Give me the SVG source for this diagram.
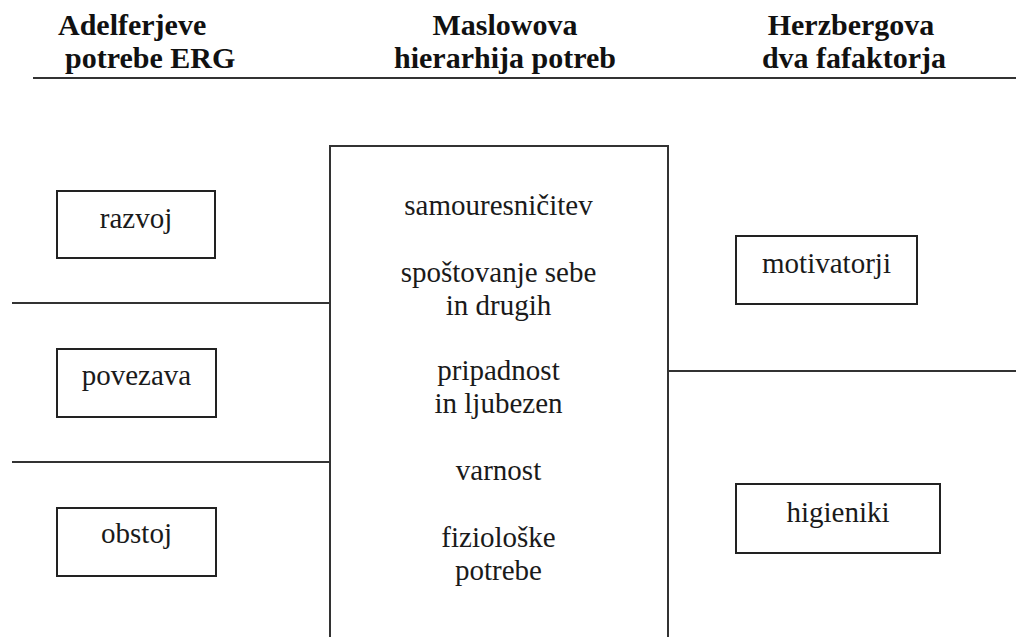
<svg xmlns="http://www.w3.org/2000/svg" width="1016" height="637" viewBox="0 0 1016 637">
  <style>
    text { font-family: 'Liberation Serif', Tinos, 'Times New Roman', 'Nimbus Roman', 'DejaVu Serif', serif; }
    .head { font-weight: bold; font-size: 30px; fill: #111; }
    .lbl { font-size: 29px; fill: #1a1a1a; text-anchor: middle; }
    .box { fill: #fff; stroke: #222; stroke-width: 2; }
    .rule { stroke: #333; stroke-width: 2; fill: none; }
  </style>
  <rect width="1016" height="637" fill="#fff"/>

  <!-- column headings -->
  <g id="headings">
    <text class="head" x="58" y="35">Adelferjeve</text>
    <text class="head" x="65" y="68">potrebe ERG</text>
    <text class="head" x="505" y="35" text-anchor="middle">Maslowova</text>
    <text class="head" x="505" y="68" text-anchor="middle">hierarhija potreb</text>
    <text class="head" x="851" y="35" text-anchor="middle">Herzbergova</text>
    <text class="head" x="854" y="68" text-anchor="middle">dva fafaktorja</text>
    <line class="rule" x1="33" y1="78" x2="1016" y2="78" stroke-width="2.5"/>
  </g>

  <!-- dividing lines between the groups -->
  <g id="connectors">
    <line class="rule" x1="12" y1="303" x2="330" y2="303"/>
    <line class="rule" x1="12" y1="462" x2="330" y2="462"/>
    <line class="rule" x1="668" y1="371" x2="1016" y2="371"/>
  </g>

  <!-- Maslow column -->
  <g id="maslow">
    <path class="rule" d="M330 640 V146 H668 V640" stroke="#222"/>
    <text class="lbl" x="498.5" y="215">samouresničitev</text>
    <text class="lbl" x="498.5" y="282">spoštovanje sebe</text>
    <text class="lbl" x="498.5" y="315">in drugih</text>
    <text class="lbl" x="498.5" y="380">pripadnost</text>
    <text class="lbl" x="498.5" y="413">in ljubezen</text>
    <text class="lbl" x="498.5" y="480">varnost</text>
    <text class="lbl" x="498.5" y="547">fiziološke</text>
    <text class="lbl" x="498.5" y="580">potrebe</text>
  </g>

  <!-- ERG needs -->
  <g id="razvoj">
    <rect class="box" x="57" y="191" width="158" height="67"/>
    <text class="lbl" x="136" y="228">razvoj</text>
  </g>
  <g id="povezava">
    <rect class="box" x="57" y="349" width="159" height="68"/>
    <text class="lbl" x="136.5" y="385">povezava</text>
  </g>
  <g id="obstoj">
    <rect class="box" x="57" y="508" width="159" height="68"/>
    <text class="lbl" x="136.5" y="543">obstoj</text>
  </g>

  <!-- Herzberg factors -->
  <g id="motivatorji">
    <rect class="box" x="736" y="236" width="181" height="68"/>
    <text class="lbl" x="826.5" y="273">motivatorji</text>
  </g>
  <g id="higieniki">
    <rect class="box" x="736" y="484" width="204" height="69"/>
    <text class="lbl" x="838" y="522">higieniki</text>
  </g>
</svg>
